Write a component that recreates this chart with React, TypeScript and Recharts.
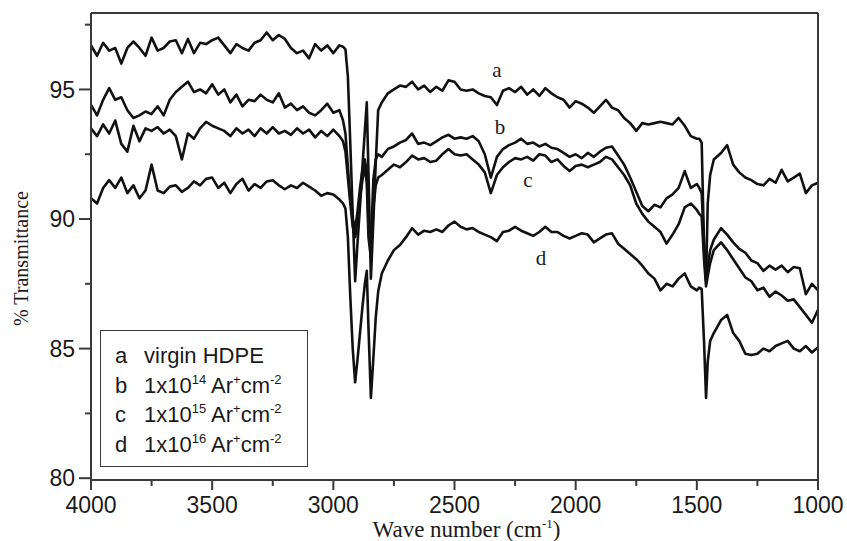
import React from 'react'
import { LineChart, Line, XAxis, YAxis, ReferenceDot, Legend, Label } from 'recharts'

// wavenumber grid (cm-1); denser around the sharp bands
const wavenumbers = [
  4000, 3975, 3950, 3925, 3900, 3875, 3850, 3825, 3800, 3775, 3750, 3725, 3700, 3675, 3650, 3625, 3600, 3575, 3550, 3525, 3500,
  3475, 3450, 3425, 3400, 3375, 3350, 3325, 3300, 3275, 3250, 3225, 3200, 3175, 3150, 3125, 3100, 3075, 3050, 3025, 3000, 2975,
  2960, 2950, 2940, 2930, 2920, 2910, 2900, 2890, 2880, 2870, 2862, 2855, 2845, 2835, 2825, 2815, 2800,
  2775, 2750, 2725, 2700, 2675, 2650, 2625, 2600, 2575, 2550, 2525, 2500, 2475, 2450, 2425, 2400, 2375, 2350, 2325, 2300,
  2275, 2250, 2225, 2200, 2175, 2150, 2125, 2100, 2075, 2050, 2025, 2000, 1975, 1950, 1925, 1900, 1875, 1850, 1825, 1800,
  1775, 1750, 1725, 1700, 1675, 1650, 1625, 1600, 1575, 1550, 1525, 1500,
  1490, 1480, 1470, 1462, 1455, 1445, 1430,
  1400, 1375, 1350, 1325, 1300, 1275, 1250, 1225, 1200, 1175, 1150, 1125, 1100, 1075, 1050, 1025, 1000,
]

// a: virgin HDPE
const seriesA = [
  96.7, 96.3, 96.8, 96.5, 96.6, 96.0, 96.6, 96.85, 96.6, 96.3, 97.0, 96.5, 96.6, 96.85, 96.9, 96.4, 96.95, 96.4, 96.8, 96.75, 96.9,
  97.0, 96.7, 96.4, 96.75, 96.6, 96.5, 96.8, 96.9, 97.2, 96.9, 97.1, 96.95, 96.6, 96.4, 96.5, 96.2, 96.75, 96.5, 96.7, 96.4, 96.7,
  96.65, 96.55, 95.5, 92.9, 90.2, 87.6, 89.1, 90.5, 92.0, 93.4, 94.5, 91.8, 87.7, 89.9, 92.15, 94.2, 94.5,
  94.85, 95.0, 95.15, 95.1, 95.3, 95.0, 95.15, 94.9, 95.1, 94.95, 95.35, 95.3, 95.0, 94.95, 95.0, 94.85, 94.75, 94.7, 94.4, 94.95,
  95.05, 94.9, 95.1, 94.8, 95.0, 94.75, 95.05, 94.85, 94.7, 94.6, 94.3, 94.55, 94.45, 94.3, 94.1, 94.35, 94.6, 94.3, 94.2, 93.9,
  93.7, 93.4, 93.7, 93.65, 93.7, 93.75, 93.7, 93.65, 93.9, 93.6, 93.2, 93.1,
  93.1, 92.95, 88.8, 87.6, 90.6, 91.7, 92.3,
  92.55, 92.85, 92.1, 91.8, 91.6, 91.5, 91.35, 91.3, 91.55, 91.4, 91.9, 91.45, 91.6, 91.75, 91.0, 91.3, 91.4,
]

// b: 1x10^14 Ar+ cm-2
const seriesB = [
  94.4, 94.0, 94.6, 95.05, 94.6, 94.7, 94.2, 93.9, 94.0, 94.15, 94.05, 94.35, 94.0, 94.6, 94.9, 95.1, 95.3, 94.9, 95.0, 94.85, 95.2,
  94.8, 95.0, 94.5, 94.8, 94.35, 94.6, 94.55, 94.8, 94.6, 94.5, 94.85, 94.3, 94.45, 94.2, 94.35, 94.1, 94.0, 94.2, 94.45, 94.1, 94.2,
  93.8, 93.3, 92.0, 90.8, 90.0, 89.6, 90.3, 91.2, 91.9, 92.3, 91.8, 89.8, 88.9, 91.5, 92.3, 92.5, 92.4,
  92.7, 92.8, 92.95, 93.05, 93.3, 92.9, 92.95, 92.85, 93.0, 93.15, 93.25, 93.1, 93.15, 93.1, 93.2, 93.0, 92.5, 91.6, 92.4, 92.7,
  92.85, 92.95, 93.1, 92.9, 92.95, 92.8, 92.9, 92.75, 92.7, 92.55, 92.4, 92.5, 92.35, 92.55, 92.4, 92.6, 92.75, 92.8, 92.45, 92.1,
  91.6, 91.05, 90.5, 90.3, 90.55, 90.45, 90.8, 90.95, 91.2, 91.85, 91.2, 91.35,
  91.2, 91.0, 89.0, 87.8, 88.2, 88.8, 89.2,
  89.65, 89.4, 89.1, 88.85, 88.7, 88.4, 88.3, 88.0, 88.2, 88.05, 88.2, 87.95, 88.15, 88.1, 87.1, 87.5, 87.25,
]

// c: 1x10^15 Ar+ cm-2
const seriesC = [
  93.5, 93.2, 93.65, 93.3, 93.8, 92.9, 92.6, 93.6, 93.0, 93.5, 93.4, 93.55, 93.3, 93.45, 93.2, 92.3, 93.3, 93.1, 93.5, 93.75, 93.6,
  93.5, 93.4, 93.2, 93.5, 93.3, 93.45, 93.2, 93.5, 93.3, 93.55, 93.3, 93.4, 93.25, 93.5, 93.3, 93.45, 93.15, 93.4, 93.2, 93.45, 93.2,
  93.0, 92.6, 91.6, 90.6, 89.7, 89.3, 89.9, 90.8, 91.5, 92.0, 91.4, 89.3, 88.5, 90.4, 91.3, 91.6, 91.7,
  91.9, 92.1, 92.0, 92.2, 92.45, 92.3, 92.35, 92.2, 92.25, 92.5, 92.7, 92.5, 92.45, 92.5, 92.3, 92.1, 91.8, 91.0, 91.7, 92.0,
  92.2, 92.35, 92.3, 92.4, 92.25, 92.5, 92.45, 92.2, 92.3, 92.05, 91.85, 92.05, 92.1, 92.0, 92.1, 92.2, 92.4, 92.3, 92.0, 91.7,
  91.3, 90.6, 90.2, 89.9, 89.7, 89.5, 89.05, 89.4, 89.8, 90.45, 90.6, 90.35,
  90.2, 90.1, 88.4, 87.4, 87.8, 88.3, 88.8,
  89.1, 88.8, 88.45, 88.1, 87.75, 87.6, 87.25, 87.35, 87.0, 87.2, 87.05, 86.85, 86.9, 86.6, 86.3, 86.0, 86.5,
]

// d: 1x10^16 Ar+ cm-2
const seriesD = [
  90.8, 90.6, 91.2, 91.5, 91.2, 91.6, 91.0, 91.3, 90.8, 91.1, 92.1, 91.1, 91.0, 91.25, 91.3, 91.05, 91.2, 91.45, 91.3, 91.55, 91.6,
  91.2, 91.4, 91.0, 91.35, 91.55, 91.1, 91.35, 91.2, 91.45, 91.5, 91.3, 91.15, 91.3, 91.2, 91.4, 91.25, 91.1, 90.9, 91.0, 90.95, 90.75,
  90.6, 90.4, 89.3, 87.0, 85.0, 83.7, 84.6, 85.6, 86.6, 87.5, 88.0, 85.8, 83.1, 84.6, 86.2, 87.2, 87.9,
  88.4, 88.8, 89.0, 89.3, 89.65, 89.4, 89.55, 89.5, 89.6, 89.5, 89.75, 89.9, 89.7, 89.6, 89.65, 89.5, 89.4, 89.3, 89.15, 89.5,
  89.55, 89.7, 89.55, 89.45, 89.35, 89.5, 89.7, 89.5, 89.5, 89.35, 89.25, 89.35, 89.45, 89.4, 89.1, 89.25, 89.4, 89.45, 89.05, 88.85,
  88.65, 88.45, 88.2, 87.9, 87.7, 87.25, 87.5, 87.4, 87.7, 87.9, 87.4, 87.25,
  87.35, 87.3, 85.2, 83.1, 84.5, 85.3, 85.6,
  86.1, 86.3, 85.6, 85.3, 84.8, 84.75, 84.8, 85.0, 84.9, 85.1, 85.2, 85.3, 85.0, 84.9, 85.1, 84.85, 85.05,
]

const seriesKeys = ['a', 'b', 'c', 'd']
const fluenceExponents = ['', '14', '15', '16']

const xTicks = [4000, 3750, 3500, 3250, 3000, 2750, 2500, 2250, 2000, 1750, 1500, 1250, 1000]
const xLabeled = [4000, 3500, 3000, 2500, 2000, 1500, 1000]
const yTicks = [80, 82.5, 85, 87.5, 90, 92.5, 95, 97.5]
const yLabeled = [80, 85, 90, 95]

// where the a-d letters sit on the plot (data coords)
const curveLabels = [
  { key: 'a', wn: 2325, v: 95.75 },
  { key: 'b', wn: 2312, v: 93.55 },
  { key: 'c', wn: 2197, v: 91.5 },
  { key: 'd', wn: 2143, v: 88.5 },
]

const data = wavenumbers.map((wn, i) => ({
  wn,
  a: seriesA[i],
  b: seriesB[i],
  c: seriesC[i],
  d: seriesD[i],
}))

const SANS = '"Liberation Sans", Arial, sans-serif'
const SERIF = '"Liberation Serif", "Times New Roman", serif'
const AXIS = '#3a3a3a'
const INK = '#1a1a1a'

const WIDTH = 847
const HEIGHT = 541
const X_AXIS_H = 61
const Y_AXIS_W = 91
const PLOT_BOTTOM = HEIGHT - X_AXIS_H
const PLOT_LEFT = Y_AXIS_W

// bottom ticks: tick x comes from the axis scale, y is pinned to the plot edge
const XTick = (props: any) => {
  const { x, payload } = props
  const major = xLabeled.includes(payload.value)
  return (
    <g>
      <line x1={x} x2={x} y1={PLOT_BOTTOM} y2={PLOT_BOTTOM + (major ? 10 : 6)} stroke={AXIS} strokeWidth={2} />
      {major && (
        <text x={x} y={PLOT_BOTTOM + 33} textAnchor="middle" fontFamily={SANS} fontSize={23} fill={INK}>
          {payload.value}
        </text>
      )}
    </g>
  )
}

const YTick = (props: any) => {
  const { y, payload } = props
  const major = yLabeled.includes(payload.value)
  return (
    <g>
      <line x1={PLOT_LEFT - (major ? 12 : 6)} x2={PLOT_LEFT} y1={y} y2={y} stroke={AXIS} strokeWidth={2} />
      {major && (
        <text x={PLOT_LEFT - 16} y={y} dy="0.36em" textAnchor="end" fontFamily={SANS} fontSize={23} fill={INK}>
          {payload.value}
        </text>
      )}
    </g>
  )
}

const XTitle = (props: any) => {
  const vb = props.viewBox
  const cx = vb.x + vb.width / 2 + 12
  return (
    <text x={cx} y={PLOT_BOTTOM + 57} textAnchor="middle" fontFamily={SERIF} fontSize={23} fill={INK}>
      Wave number (cm
      <tspan dy={-9} fontSize={13}>-1</tspan>
      <tspan dy={9}>)</tspan>
    </text>
  )
}

const YTitle = (props: any) => {
  const vb = props.viewBox
  const cx = 21
  const cy = vb.y + vb.height / 2 + 12
  return (
    <text
      x={cx}
      y={cy}
      transform={`rotate(-90 ${cx} ${cy})`}
      textAnchor="middle"
      dominantBaseline="central"
      fontFamily={SERIF}
      fontSize={20}
      fill={INK}
    >
      % Transmittance
    </text>
  )
}

const Sup = ({ children }: { children: React.ReactNode }) => (
  <span style={{ fontSize: 13, position: 'relative', top: -9 }}>{children}</span>
)

const LegendBox = () => (
  <div
    style={{
      width: 208,
      height: 137,
      boxSizing: 'border-box',
      border: `1.5px solid ${AXIS}`,
      background: '#fff',
      fontFamily: SANS,
      fontSize: 22,
      color: INK,
      padding: '10px 0 0 14px',
    }}
  >
    {seriesKeys.map((k, i) => (
      <div key={k} style={{ height: 29.5, lineHeight: '29.5px', whiteSpace: 'nowrap' }}>
        <span style={{ display: 'inline-block', width: 29 }}>{k}</span>
        {i === 0 ? (
          'virgin HDPE'
        ) : (
          <>
            1x10<Sup>{fluenceExponents[i]}</Sup> Ar<Sup>+</Sup>cm<Sup>-2</Sup>
          </>
        )}
      </div>
    ))}
  </div>
)

export default function App() {
  return (
    <div style={{ position: 'absolute', left: 0, top: 0, width: WIDTH, height: HEIGHT, background: '#fff' }}>
      <LineChart width={WIDTH} height={HEIGHT} data={data} margin={{ top: 13, right: 29, bottom: 0, left: 0 }}>
        <XAxis
          dataKey="wn"
          type="number"
          domain={[1000, 4000]}
          reversed
          allowDataOverflow
          ticks={xTicks}
          interval={0}
          height={X_AXIS_H}
          tickLine={false}
          tick={<XTick />}
          axisLine={{ stroke: AXIS, strokeWidth: 2 }}
        >
          <Label content={<XTitle />} />
        </XAxis>
        <XAxis
          xAxisId="top"
          dataKey="wn"
          type="number"
          orientation="top"
          mirror
          domain={[1000, 4000]}
          reversed
          allowDataOverflow
          ticks={xTicks}
          interval={0}
          tickSize={8}
          tick={false}
          tickLine={{ stroke: AXIS, strokeWidth: 2 }}
          axisLine={{ stroke: AXIS, strokeWidth: 2 }}
        />
        <YAxis
          type="number"
          domain={[79.93, 97.95]}
          allowDataOverflow
          ticks={yTicks}
          interval={0}
          width={Y_AXIS_W}
          tickLine={false}
          tick={<YTick />}
          axisLine={{ stroke: AXIS, strokeWidth: 2 }}
        >
          <Label content={<YTitle />} />
        </YAxis>
        <YAxis
          yAxisId="right"
          type="number"
          orientation="right"
          mirror
          domain={[79.93, 97.95]}
          allowDataOverflow
          ticks={yTicks}
          interval={0}
          tickSize={9}
          tick={false}
          tickLine={{ stroke: AXIS, strokeWidth: 2 }}
          axisLine={{ stroke: AXIS, strokeWidth: 2 }}
        />
        <Legend
          layout="vertical"
          align="center"
          verticalAlign="middle"
          content={<LegendBox />}
          wrapperStyle={{ left: 100, top: 330, width: 208, height: 137 }}
        />
        {seriesKeys.map((k) => (
          <Line
            key={k}
            dataKey={k}
            type="linear"
            stroke="#111"
            strokeWidth={2.6}
            strokeLinejoin="round"
            dot={false}
            activeDot={false}
            isAnimationActive={false}
          />
        ))}
        {curveLabels.map((l) => (
          <ReferenceDot
            key={l.key}
            x={l.wn}
            y={l.v}
            r={0}
            shape={(p: any) => (
              <text x={p.cx} y={p.cy} textAnchor="middle" dominantBaseline="central" fontFamily={SERIF} fontSize={21} fill={INK}>
                {l.key}
              </text>
            )}
          />
        ))}
      </LineChart>
    </div>
  )
}
